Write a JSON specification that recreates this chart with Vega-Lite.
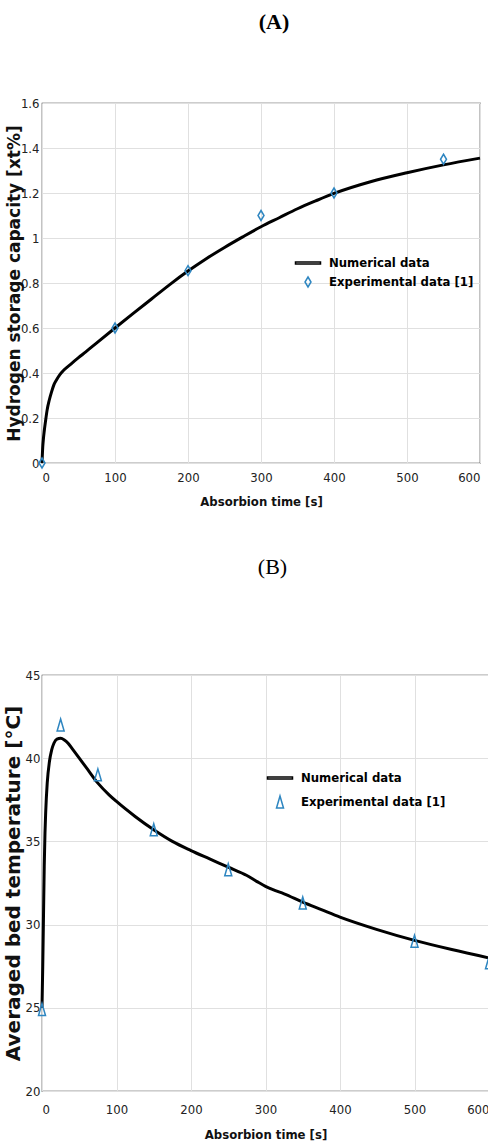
{
  "$schema": "https://vega.github.io/schema/vega-lite/v6.json",
  "background": "white",
  "padding": {"left": 2, "top": 10, "right": 0, "bottom": 0},
  "spacing": 46,
  "config": {
    "view": {"stroke": "#3a3a3a", "strokeWidth": 1.2},
    "axis": {
      "grid": true, "gridColor": "#e0e0e0", "gridWidth": 1,
      "domain": false, "tickSize": 0,
      "labelFont": "DejaVu Sans Condensed, Liberation Sans, sans-serif", "labelFontSize": 13, "labelColor": "#222",
      "titleColor": "#111"
    }
  },
  "datasets": {
    "numA": [
      {"t": 0, "v": 0, "series": "Numerical data"}, {"t": 1, "v": 0.07, "series": "Numerical data"}, {"t": 2, "v": 0.11, "series": "Numerical data"}, {"t": 3, "v": 0.14, "series": "Numerical data"}, {"t": 5, "v": 0.19, "series": "Numerical data"},
      {"t": 7, "v": 0.235, "series": "Numerical data"}, {"t": 10, "v": 0.28, "series": "Numerical data"}, {"t": 13, "v": 0.315, "series": "Numerical data"}, {"t": 16, "v": 0.345, "series": "Numerical data"}, {"t": 20, "v": 0.37, "series": "Numerical data"},
      {"t": 25, "v": 0.395, "series": "Numerical data"}, {"t": 30, "v": 0.413, "series": "Numerical data"}, {"t": 40, "v": 0.441, "series": "Numerical data"}, {"t": 50, "v": 0.468, "series": "Numerical data"}, {"t": 60, "v": 0.494, "series": "Numerical data"},
      {"t": 75, "v": 0.534, "series": "Numerical data"}, {"t": 100, "v": 0.6, "series": "Numerical data"}, {"t": 125, "v": 0.665, "series": "Numerical data"}, {"t": 150, "v": 0.729, "series": "Numerical data"}, {"t": 175, "v": 0.793, "series": "Numerical data"},
      {"t": 200, "v": 0.853, "series": "Numerical data"}, {"t": 225, "v": 0.908, "series": "Numerical data"}, {"t": 250, "v": 0.958, "series": "Numerical data"}, {"t": 275, "v": 1.005, "series": "Numerical data"}, {"t": 300, "v": 1.05, "series": "Numerical data"},
      {"t": 325, "v": 1.09, "series": "Numerical data"}, {"t": 350, "v": 1.13, "series": "Numerical data"}, {"t": 375, "v": 1.165, "series": "Numerical data"}, {"t": 400, "v": 1.198, "series": "Numerical data"}, {"t": 450, "v": 1.25, "series": "Numerical data"},
      {"t": 500, "v": 1.29, "series": "Numerical data"}, {"t": 550, "v": 1.325, "series": "Numerical data"}, {"t": 600, "v": 1.355, "series": "Numerical data"}
    ],
    "expA": [
      {"t": 0, "v": 0, "series": "Experimental data [1]"}, {"t": 100, "v": 0.6, "series": "Experimental data [1]"}, {"t": 200, "v": 0.855, "series": "Experimental data [1]"},
      {"t": 300, "v": 1.1, "series": "Experimental data [1]"}, {"t": 400, "v": 1.2, "series": "Experimental data [1]"}, {"t": 550, "v": 1.35, "series": "Experimental data [1]"}
    ],
    "numB": [
      {"t": 0, "v": 25, "series": "Numerical data"}, {"t": 1, "v": 27.5, "series": "Numerical data"}, {"t": 2, "v": 30.5, "series": "Numerical data"}, {"t": 3, "v": 33.5, "series": "Numerical data"}, {"t": 4, "v": 35.5, "series": "Numerical data"}, {"t": 5, "v": 36.8, "series": "Numerical data"},
      {"t": 7, "v": 38.5, "series": "Numerical data"}, {"t": 10, "v": 39.8, "series": "Numerical data"}, {"t": 13, "v": 40.5, "series": "Numerical data"}, {"t": 16, "v": 40.9, "series": "Numerical data"}, {"t": 20, "v": 41.15, "series": "Numerical data"},
      {"t": 25, "v": 41.2, "series": "Numerical data"}, {"t": 30, "v": 41.1, "series": "Numerical data"}, {"t": 35, "v": 40.9, "series": "Numerical data"}, {"t": 40, "v": 40.6, "series": "Numerical data"}, {"t": 50, "v": 40.0, "series": "Numerical data"},
      {"t": 60, "v": 39.4, "series": "Numerical data"}, {"t": 75, "v": 38.5, "series": "Numerical data"}, {"t": 90, "v": 37.8, "series": "Numerical data"}, {"t": 100, "v": 37.4, "series": "Numerical data"}, {"t": 125, "v": 36.5, "series": "Numerical data"},
      {"t": 150, "v": 35.7, "series": "Numerical data"}, {"t": 175, "v": 35.0, "series": "Numerical data"}, {"t": 200, "v": 34.45, "series": "Numerical data"}, {"t": 225, "v": 33.95, "series": "Numerical data"}, {"t": 250, "v": 33.45, "series": "Numerical data"},
      {"t": 275, "v": 32.95, "series": "Numerical data"}, {"t": 290, "v": 32.55, "series": "Numerical data"}, {"t": 300, "v": 32.3, "series": "Numerical data"}, {"t": 310, "v": 32.1, "series": "Numerical data"}, {"t": 325, "v": 31.85, "series": "Numerical data"},
      {"t": 350, "v": 31.35, "series": "Numerical data"}, {"t": 375, "v": 30.9, "series": "Numerical data"}, {"t": 400, "v": 30.45, "series": "Numerical data"}, {"t": 450, "v": 29.7, "series": "Numerical data"}, {"t": 500, "v": 29.05, "series": "Numerical data"},
      {"t": 550, "v": 28.5, "series": "Numerical data"}, {"t": 600, "v": 28.0, "series": "Numerical data"}
    ],
    "expB": [
      {"t": 0, "v": 24.9, "series": "Experimental data [1]"}, {"t": 25, "v": 42.0, "series": "Experimental data [1]"}, {"t": 75, "v": 39.0, "series": "Experimental data [1]"}, {"t": 150, "v": 35.7, "series": "Experimental data [1]"},
      {"t": 250, "v": 33.3, "series": "Experimental data [1]"}, {"t": 350, "v": 31.3, "series": "Experimental data [1]"}, {"t": 500, "v": 29.0, "series": "Experimental data [1]"}, {"t": 600, "v": 27.7, "series": "Experimental data [1]"}
    ]
  },
  "vconcat": [
    {
      "title": {"text": "(A)", "font": "Liberation Serif", "fontSize": 22, "fontWeight": "bold", "color": "black", "offset": 63, "dx": 13},
      "width": 438,
      "height": 360,
      "layer": [
        {
          "data": {"name": "numA"},
          "mark": {"type": "line", "strokeWidth": 3, "interpolate": "monotone"},
          "encoding": {
            "x": {"field": "t", "type": "quantitative", "scale": {"domain": [0, 600], "nice": false},
              "axis": {"values": [0, 100, 200, 300, 400, 500, 600], "title": "Absorbion time [s]", "titleFont": "DejaVu Sans Condensed, Liberation Sans, sans-serif", "titleFontSize": 13, "titleFontWeight": "bold", "labelPadding": 8, "titlePadding": 11}},
            "y": {"field": "v", "type": "quantitative", "scale": {"domain": [0, 1.6], "nice": false},
              "axis": {"values": [0, 0.2, 0.4, 0.6, 0.8, 1, 1.2, 1.4, 1.6], "format": "~g", "title": "Hydrogen storage capacity [xt%]", "titleFont": "DejaVu Sans", "titleFontSize": 17, "titleFontWeight": "bold", "labelPadding": 3, "titlePadding": -3}},
            "color": {"field": "series", "type": "nominal",
              "scale": {"domain": ["Numerical data", "Experimental data [1]"], "range": ["black", "#2e86c1"]},
              "legend": {"title": null, "orient": "none", "legendX": 255, "legendY": 149, "symbolSize": 400, "symbolStrokeWidth": 1.5, "labelFont": "DejaVu Sans Condensed, Liberation Sans, sans-serif", "labelFontSize": 13, "labelFontWeight": "bold", "labelColor": "black", "labelOffset": 10, "rowPadding": 1}}
          }
        },
        {
          "data": {"name": "expA"},
          "mark": {"type": "point", "filled": false, "size": 400, "strokeWidth": 1.5, "opacity": 1},
          "encoding": {
            "x": {"field": "t", "type": "quantitative"},
            "y": {"field": "v", "type": "quantitative"},
            "color": {"field": "series", "type": "nominal"},
            "shape": {"field": "series", "type": "nominal",
              "scale": {"domain": ["Numerical data", "Experimental data [1]"], "range": ["M-1.25,-0.1H1.25V0.1H-1.25Z", "M0,-0.5L0.3,0L0,0.5L-0.3,0Z"]}}
          }
        }
      ]
    },
    {
      "title": {"text": "(B)", "font": "Liberation Serif", "fontSize": 22, "fontWeight": "normal", "color": "black", "offset": 90, "dx": 7},
      "width": 447,
      "height": 416,
      "layer": [
        {
          "data": {"name": "numB"},
          "mark": {"type": "line", "strokeWidth": 3, "interpolate": "monotone"},
          "encoding": {
            "x": {"field": "t", "type": "quantitative", "scale": {"domain": [0, 600], "nice": false},
              "axis": {"values": [0, 100, 200, 300, 400, 500, 600], "title": "Absorbion time [s]", "titleFont": "DejaVu Sans Condensed, Liberation Sans, sans-serif", "titleFontSize": 13, "titleFontWeight": "bold", "labelPadding": 12, "titlePadding": 12}},
            "y": {"field": "v", "type": "quantitative", "scale": {"domain": [20, 45], "nice": false},
              "axis": {"values": [20, 25, 30, 35, 40, 45], "title": "Averaged bed temperature [°C]", "titleFont": "DejaVu Sans", "titleFontSize": 20, "titleFontWeight": "bold", "labelPadding": 2, "titlePadding": 2}},
            "color": {"field": "series", "type": "nominal",
              "scale": {"domain": ["Numerical data", "Experimental data [1]"], "range": ["black", "#2e86c1"]},
              "legend": {"title": null, "orient": "none", "legendX": 227, "legendY": 92, "symbolSize": 400, "symbolStrokeWidth": 1.5, "labelFont": "DejaVu Sans Condensed, Liberation Sans, sans-serif", "labelFontSize": 13, "labelFontWeight": "bold", "labelColor": "black", "labelOffset": 10, "rowPadding": 6}}
          }
        },
        {
          "data": {"name": "expB"},
          "mark": {"type": "point", "filled": false, "size": 400, "strokeWidth": 1.5, "opacity": 1},
          "encoding": {
            "x": {"field": "t", "type": "quantitative"},
            "y": {"field": "v", "type": "quantitative"},
            "color": {"field": "series", "type": "nominal"},
            "shape": {"field": "series", "type": "nominal",
              "scale": {"domain": ["Numerical data", "Experimental data [1]"], "range": ["M-1.25,-0.1H1.25V0.1H-1.25Z", "M0,-0.6L0.35,0.6L-0.35,0.6Z"]}}
          }
        }
      ]
    }
  ],
  "resolve": {"scale": {"color": "independent", "shape": "independent"}, "legend": {"color": "independent", "shape": "independent"}}
}
